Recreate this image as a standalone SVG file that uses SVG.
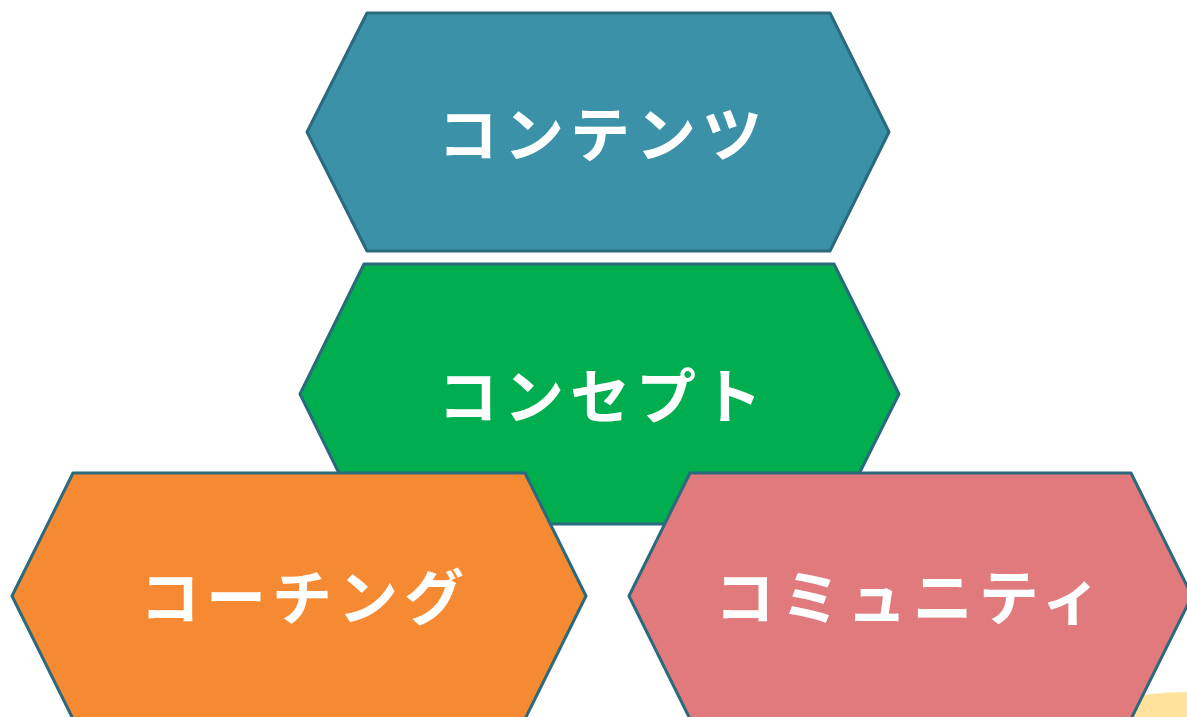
<svg xmlns="http://www.w3.org/2000/svg" width="1187" height="717" viewBox="0 0 1187 717">
<style>
.hex{stroke:#2A6A7C;stroke-width:3;stroke-linejoin:round}
.lbl{font-family:"Noto Sans CJK JP","Noto Sans",sans-serif;font-weight:bold;font-size:60px;fill:#FFFFFF;text-anchor:middle;letter-spacing:6px}
</style>
<rect width="1187" height="717" fill="#FFFFFF"/>
<ellipse cx="1190" cy="800" rx="200" ry="108" fill="#FFE29C"/>
<g id="node-contents">
<polygon class="hex" fill="#3B91A8" points="307,132 367,13 830,13 889,132 830,251 367,251"/>
<text class="lbl" x="603" y="157">コンテンツ</text>
</g>
<g id="node-concept">
<polygon class="hex" fill="#00AE4F" points="300,394 364,264 834,264 899,394 834,524 364,524"/>
<text class="lbl" x="603" y="419">コンセプト</text>
</g>
<g id="node-coaching">
<polygon class="hex" fill="#F68A32" points="12,596 73,473 525,473 586,596 525,719 73,719"/>
<text class="lbl" x="305" y="620">コーチング</text>
</g>
<g id="node-community">
<polygon class="hex" fill="#E07A7C" points="629,596 690,473 1131,473 1192,596 1131,719 690,719"/>
<text class="lbl" x="911" y="620">コミュニティ</text>
</g>
<g id="connectors"></g>
</svg>
